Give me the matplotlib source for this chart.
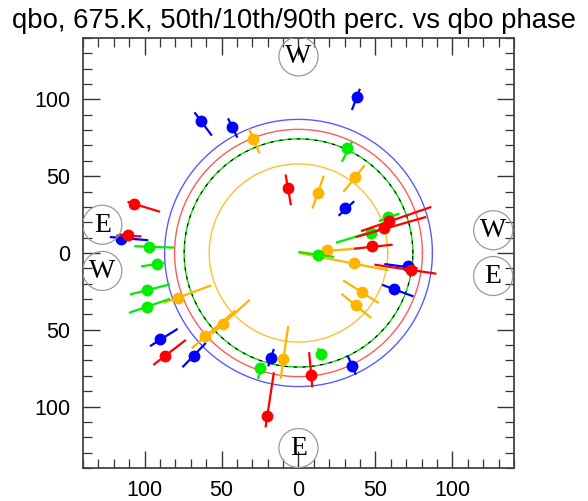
import matplotlib
matplotlib.use("Agg")
import matplotlib.pyplot as plt
from matplotlib.patches import Circle
from matplotlib.ticker import MultipleLocator, FuncFormatter
import numpy as np

title = "qbo, 675.K, 50th/10th/90th perc. vs qbo phase"

# --- data ---
blue_x  = [-63.2, -43.2, -115.4, -89.9, -68.2, -18.1, 38.2, 30.2, 71.0, 62.3, 34.7]
blue_y  = [86.0, 82.2, 8.9, -56.3, -67.2, -68.3, 101.8, 29.4, -8.7, -23.3, -73.8]
blue_x1 = [-67.6, -45.8, -122.6, -96.5, -75.4, -19.7, 34.7, 26.0, 55.8, 54.3, 31.9]
blue_y1 = [91.6, 87.7, 10.4, -60.7, -74.4, -73.8, 93.1, 24.2, -7.2, -20.7, -66.8]
blue_x2 = [-56.3, -39.7, -97.6, -78.5, -60.2, -16.0, 39.9, 36.2, 77.3, 74.7, 37.3]
blue_y2 = [76.4, 75.1, 8.3, -49.4, -58.6, -62.5, 106.9, 33.7, -10.1, -28.3, -79.2]

red_x  = [-6.7, -106.7, -110.6, -86.7, -20.4, 59.1, 55.4, 47.7, 73.2, 8.4]
red_y  = [42.6, 32.2, 11.9, -67.2, -106.4, 20.7, 16.3, 4.4, -10.9, -79.2]
red_x1 = [-8.4, -111.1, -118.3, -94.3, -21.4, 40.6, 37.3, 36.2, 49.3, 6.9]
red_y1 = [51.1, 33.3, 11.5, -72.9, -113.6, 14.2, 10.4, 2.8, -7.6, -64.6]
red_x2 = [-4.9, -89.9, -102.0, -73.2, -16.0, 86.3, 83.0, 61.2, 89.6, 9.0]
red_y2 = [31.1, 26.8, 10.8, -56.6, -77.7, 30.0, 23.5, 5.4, -13.5, -87.5]

green_x  = [-97.1, -91.7, -98.7, -98.7, -25.1, 31.5, 58.0, 47.1, 12.9, 14.5]
green_y  = [3.9, -7.4, -24.0, -35.2, -75.1, 68.1, 23.5, 13.3, -1.1, -65.7]
green_x1 = [-106.7, -102.3, -109.5, -110.2, -26.4, 28.2, 52.1, 24.3, -0.1, 12.7]
green_y1 = [4.4, -8.7, -27.0, -39.0, -82.0, 59.4, 20.7, 6.7, 0.7, -62.0]
green_x2 = [-80.6, -87.1, -83.4, -83.4, -23.2, 35.1, 65.6, 54.7, 23.2, 15.5]
green_y2 = [3.5, -6.5, -20.4, -29.8, -71.6, 72.9, 25.7, 15.9, -2.6, -70.0]

orange_x  = [-29.5, -78.0, -49.3, -60.6, -10.1, 36.9, 12.5, 18.8, 36.2, 41.3, 37.3]
orange_y  = [74.2, -29.4, -46.3, -54.2, -69.0, 49.2, 39.0, 1.8, -6.5, -25.5, -34.1]
orange_x1 = [-32.3, -87.8, -56.3, -69.3, -11.6, 29.2, 9.0, 14.5, 0.3, 29.0, 27.9]
orange_y1 = [81.1, -32.6, -52.7, -62.0, -82.0, 39.8, 28.9, 1.1, 0.0, -17.8, -26.6]
orange_x2 = [-25.3, -56.7, -31.7, -41.0, -6.7, 43.0, 16.4, 37.3, 58.6, 52.1, 47.3]
orange_y2 = [64.8, -21.1, -30.5, -37.4, -47.6, 57.2, 50.3, 2.8, -11.3, -32.6, -42.4]

ring_radii  = [87.0, 80.5, 74.3, 58.0]
ring_colors = ["#5a5aff", "#ff5a5a", "#00dd00", "#ffc030"]

label_text = ["W", "E", "W", "E", "E", "W"]
label_x    = [0.0, 0.0, 126.5, 126.5, -127.5, -127.5]
label_y    = [128.0, -127.0, 14.8, -15.0, 18.4, -11.7]

# --- figure ---
fig = plt.figure(figsize=(5.88, 5.01), dpi=100)
ax = fig.add_axes([0.1412, 0.0659, 0.7329, 0.8583])
ax.set_xlim(-140, 140)
ax.set_ylim(-140, 140)

theta = np.linspace(0, 2 * np.pi, 721)
for r, c in zip(ring_radii, ring_colors):
    ax.plot(r * np.cos(theta), r * np.sin(theta), color=c, lw=1.0, zorder=2)
ax.plot(ring_radii[2] * np.cos(theta), ring_radii[2] * np.sin(theta),
        color="black", lw=0.8, ls=(0, (3, 5)), zorder=2)

series = [
    (orange_x, orange_y, orange_x1, orange_y1, orange_x2, orange_y2, "#ffb400"),
    (green_x, green_y, green_x1, green_y1, green_x2, green_y2, "#00ee00"),
    (blue_x, blue_y, blue_x1, blue_y1, blue_x2, blue_y2, "#0000ff"),
    (red_x, red_y, red_x1, red_y1, red_x2, red_y2, "#ff0000"),
]
z = 3
for xs, ys, x1, y1, x2, y2, col in series:
    for i in range(len(xs)):
        ax.plot([x1[i], x2[i]], [y1[i], y2[i]], color=col, lw=1.6,
                solid_capstyle="butt", zorder=z)
        ax.plot([xs[i]], [ys[i]], "o", color=col, ms=7.5, mec=col, zorder=z + 0.5)
    z += 1

for t, lx, ly in zip(label_text, label_x, label_y):
    ax.add_patch(Circle((lx, ly), 12.7, fill=False, ec="#9a9a9a", lw=0.9, zorder=8))
    ax.text(lx, ly - 0.3, t, ha="center", va="center", fontsize=20,
            family="Liberation Serif", color="black", zorder=9)

ax.xaxis.set_major_locator(MultipleLocator(50))
ax.xaxis.set_minor_locator(MultipleLocator(10))
ax.yaxis.set_major_locator(MultipleLocator(50))
ax.yaxis.set_minor_locator(MultipleLocator(10))
fmt = FuncFormatter(lambda v, p: f"{abs(v):.0f}")
ax.xaxis.set_major_formatter(fmt)
ax.yaxis.set_major_formatter(fmt)
ax.tick_params(which="both", direction="in", top=True, right=True, color="#333333")
ax.tick_params(which="major", length=12, width=1.0, labelsize=15.5, pad=9)
ax.tick_params(which="minor", length=6.5, width=0.9)
for lab in ax.get_xticklabels() + ax.get_yticklabels():
    lab.set_family("Liberation Sans")
for s in ax.spines.values():
    s.set_color("#444444")
    s.set_linewidth(1.3)

fig.text(0.500, 0.958, title, ha="center", va="center", fontsize=19.8,
         family="Liberation Sans")

fig.savefig("out.png", dpi=100)
